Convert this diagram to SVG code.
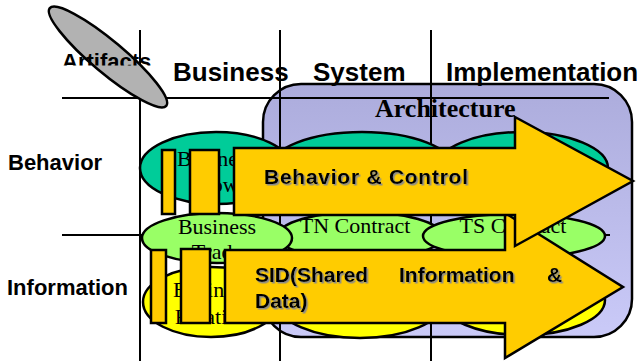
<svg xmlns="http://www.w3.org/2000/svg" width="642" height="361" viewBox="0 0 642 361">
<defs>
<linearGradient id="arch" x1="0" y1="0" x2="0" y2="1">
<stop offset="0" stop-color="#acacdc"/>
<stop offset="1" stop-color="#cacaf8"/>
</linearGradient>
<clipPath id="artclip"><rect x="0" y="0" width="200" height="65.5"/></clipPath>
<filter id="sh" x="-5%" y="-20%" width="110%" height="140%">
<feDropShadow dx="1.5" dy="1.5" stdDeviation="0.3" flood-color="#8a8a8a" flood-opacity="1"/>
</filter>
<style>
.hdr{font-family:"Liberation Sans",Arial,sans-serif;font-weight:bold;font-size:26px;fill:#000}
.row{font-family:"Liberation Sans",Arial,sans-serif;font-weight:bold;font-size:22px;fill:#000}
.ser{font-family:"Liberation Serif","Times New Roman",serif;font-size:22px;fill:#000}
.arr{font-family:"Liberation Sans",Arial,sans-serif;font-weight:bold;font-size:21px;fill:#000}
.grid{stroke:#000;stroke-width:2;fill:none}
.ol{stroke:#000;stroke-width:2.5}
.teal{fill:#00cc99}
.lime{fill:#99ff66}
.yel{fill:#ffff00}
.org{fill:#ffcc00;stroke:#000;stroke-width:2.5;stroke-linejoin:miter}
</style>
</defs>
<rect width="642" height="361" fill="#fff"/>

<g id="architecture">
<rect x="263" y="84" width="369" height="253" rx="38" ry="38" fill="url(#arch)" class="ol"/>
<text x="375" y="117" font-family="Liberation Serif, Times New Roman, serif" font-weight="bold" font-size="26">Architecture</text>
</g>

<g id="grid">
<line class="grid" x1="140" y1="30" x2="140" y2="361"/>
<line class="grid" x1="280" y1="30" x2="280" y2="361"/>
<line class="grid" x1="431" y1="30" x2="431" y2="361"/>
<line class="grid" x1="62" y1="98" x2="609" y2="98"/>
<line class="grid" x1="62" y1="235" x2="610" y2="235"/>
</g>

<g id="artifacts">
<ellipse cx="108" cy="57" rx="76" ry="16" transform="rotate(40 108 57)" fill="#b2b2b2" class="ol"/>
<text x="62" y="69" class="row" clip-path="url(#artclip)">Artifacts</text>
</g>

<g id="headers">
<text x="173" y="81" class="hdr">Business</text>
<text x="313" y="81" class="hdr">System</text>
<text x="446" y="81" class="hdr">Implementation</text>
<text x="8" y="170" class="row">Behavior</text>
<text x="7" y="295" class="row">Information</text>
</g>

<g id="behavior-ellipses">
<ellipse cx="522" cy="168" rx="86" ry="36" class="teal ol"/>
<ellipse cx="362" cy="168" rx="92" ry="36" class="teal ol"/>
<ellipse cx="216" cy="168" rx="76" ry="36" class="teal ol"/>
<text class="ser" text-anchor="middle"><tspan x="216" y="166">Business</tspan><tspan x="216" y="192">Flow</tspan></text>
</g>

<g id="contract-ellipses">
<ellipse cx="360" cy="236" rx="82" ry="24" class="lime ol"/>
<ellipse cx="217" cy="238" rx="75" ry="25" class="lime ol"/>
<ellipse cx="514" cy="236" rx="91" ry="22" class="lime ol"/>
<text class="ser" text-anchor="middle"><tspan x="217" y="234">Business</tspan><tspan x="217" y="259">Trade</tspan></text>
<text x="355" y="233" class="ser" text-anchor="middle">TN Contract</text>
<text x="513" y="233" class="ser" text-anchor="middle">TS Contract</text>
</g>

<g id="information-ellipses">
<ellipse cx="523" cy="300" rx="82" ry="35" class="yel ol"/>
<ellipse cx="360" cy="302" rx="83" ry="36" class="yel ol"/>
<ellipse cx="211" cy="302" rx="68" ry="35" class="yel ol"/>
<text class="ser" text-anchor="middle"><tspan x="212" y="297">Business</tspan><tspan x="212" y="324">Relation</tspan></text>
</g>

<g id="bars">
<rect x="162" y="150" width="13" height="64" class="org"/>
<rect x="190" y="150" width="29" height="64" class="org"/>
<rect x="151" y="250" width="15" height="73" class="org"/>
<rect x="181" y="249" width="29" height="74" class="org"/>
</g>

<g id="connectors">
<g id="sid-arrow">
<path d="M225,250 H505 V213 L623,287 L505,358 V323 H225 Z" class="org"/>
<text class="arr" filter="url(#sh)"><tspan x="255" y="282">SID(Shared</tspan><tspan x="399" y="282">Information</tspan><tspan x="547" y="282">&amp;</tspan><tspan x="255" y="308">Data)</tspan></text>
</g>
<g id="behavior-arrow">
<path d="M234,148 H515 V117 L633,181 L515,246 V215 H234 Z" class="org"/>
<text x="264" y="184" class="arr" font-size="22" textLength="204" filter="url(#sh)">Behavior &amp; Control</text>
</g>
</g>
</svg>
